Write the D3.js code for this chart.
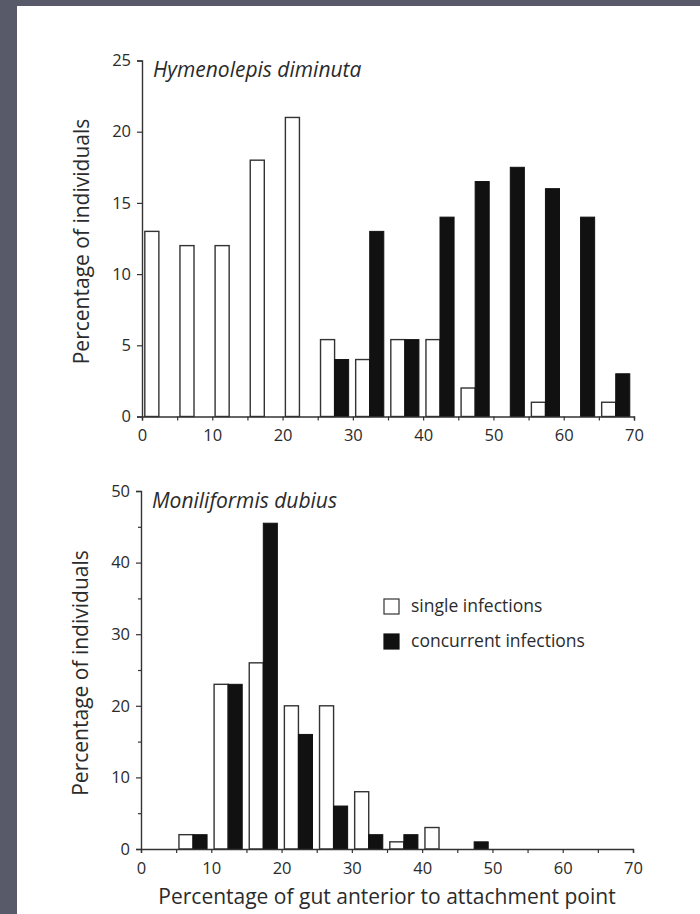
<!DOCTYPE html>
<html>
<head>
<meta charset="utf-8">
<script src="https://cdn.jsdelivr.net/npm/d3@7"></script>
<style>
  html, body { margin: 0; padding: 0; background: #585a6a; }
  #page { position: absolute; left: 17px; top: 6px; right: 0; bottom: 0; background: #fff; }
  svg { position: absolute; left: 0; top: 0; }
</style>
</head>
<body>
<div id="page"></div>
<svg id="chart" width="700" height="914"></svg>
<script>
// bin starts (percentage of gut anterior to attachment point)
const bins = [0, 5, 10, 15, 20, 25, 30, 35, 40, 45, 50, 55, 60, 65];

// Hymenolepis diminuta
const hdSingle = [13, 12, 12, 18, 21, 5.4, 4, 5.4, 5.4, 2, 0, 1, 0, 1];
const hdConcurrent = [0, 0, 0, 0, 0, 4, 13, 5.4, 14, 16.5, 17.5, 16, 14, 3];

// Moniliformis dubius
const mdSingle = [0, 2, 23, 26, 20, 20, 8, 1, 3, 0, 0, 0, 0, 0];
const mdConcurrent = [0, 2, 23, 45.5, 16, 6, 2, 2, 0, 1, 0, 0, 0, 0];

const xTicks = [0, 5, 10, 15, 20, 25, 30, 35, 40, 45, 50, 55, 60, 65, 70];
const hdYTicks = [0, 5, 10, 15, 20, 25];
const mdYTicks = [0, 10, 20, 30, 40, 50];
const mdYMinor = [5, 15, 25, 35, 45];

const seriesNames = ["single infections", "concurrent infections"];

const textColor = "#2b2b2b";
const axisColor = "#333";
const barBlack = "#111";
const font = "'Open Sans', 'Noto Sans', sans-serif";

const svg = d3.select("#chart");

function drawPanel(opts) {
  const x = d3.scaleLinear().domain([0, 70]).range([opts.left, opts.right]);
  const y = d3.scaleLinear().domain([0, opts.yMax]).range([opts.bottom, opts.top]);
  const g = svg.append("g");

  const barOffset = 0.4, barWidth = 2;

  // single infections (open bars)
  g.selectAll("rect.single")
    .data(bins.map((b, i) => ({ b, v: opts.single[i] })).filter(d => d.v > 0))
    .join("rect")
    .attr("class", "single")
    .attr("x", d => x(d.b + barOffset))
    .attr("width", d => x(d.b + barOffset + barWidth) - x(d.b + barOffset))
    .attr("y", d => y(d.v))
    .attr("height", d => y(0) - y(d.v))
    .attr("fill", "#fff")
    .attr("stroke", axisColor)
    .attr("stroke-width", 1.4);

  // concurrent infections (filled bars)
  g.selectAll("rect.conc")
    .data(bins.map((b, i) => ({ b, v: opts.concurrent[i] })).filter(d => d.v > 0))
    .join("rect")
    .attr("class", "conc")
    .attr("x", d => x(d.b + barOffset + barWidth))
    .attr("width", d => x(d.b + barOffset + 2 * barWidth) - x(d.b + barOffset + barWidth))
    .attr("y", d => y(d.v))
    .attr("height", d => y(0) - y(d.v))
    .attr("fill", barBlack)
    .attr("stroke", barBlack)
    .attr("stroke-width", 1);

  // x axis
  g.append("g")
    .attr("transform", `translate(0,${opts.bottom})`)
    .call(d3.axisBottom(x).tickValues(xTicks).tickSize(4).tickPadding(9)
      .tickFormat(d => d % 10 === 0 ? d : ""));

  // y axis
  g.append("g")
    .attr("transform", `translate(${opts.left},0)`)
    .call(d3.axisLeft(y).tickValues(opts.yTicks).tickSize(5).tickPadding(6));

  if (opts.yMinor) {
    g.append("g")
      .attr("transform", `translate(${opts.left},0)`)
      .call(d3.axisLeft(y).tickValues(opts.yMinor).tickSize(3).tickFormat(""))
      .select(".domain").remove();
  }

  g.selectAll(".domain").attr("stroke", axisColor).attr("stroke-width", 1.4);
  g.selectAll(".tick line").attr("stroke", axisColor).attr("stroke-width", 1.2);
  g.selectAll(".tick text")
    .attr("fill", textColor)
    .style("font-family", font)
    .style("font-size", "16.5px");

  // species name
  g.append("text")
    .attr("x", opts.left + 11)
    .attr("y", opts.top + 16.5)
    .attr("fill", textColor)
    .style("font-family", font)
    .style("font-style", "italic")
    .style("font-size", "21px")
    .text(opts.title);

  // y axis title
  g.append("text")
    .attr("transform", `translate(${opts.left - 53},${(opts.top + opts.bottom) / 2 + 3}) rotate(-90)`)
    .attr("text-anchor", "middle")
    .attr("fill", textColor)
    .style("font-family", font)
    .style("font-size", "21px")
    .text("Percentage of individuals");

  return { x, y };
}

drawPanel({
  left: 142, right: 634, top: 60.5, bottom: 416.5, yMax: 25,
  yTicks: hdYTicks, single: hdSingle, concurrent: hdConcurrent,
  title: "Hymenolepis diminuta"
});

drawPanel({
  left: 141, right: 633, top: 491, bottom: 849, yMax: 50,
  yTicks: mdYTicks, yMinor: mdYMinor, single: mdSingle, concurrent: mdConcurrent,
  title: "Moniliformis dubius"
});

// legend
const legend = svg.append("g").attr("transform", "translate(384,599)");
seriesNames.forEach((name, i) => {
  legend.append("rect")
    .attr("x", 0)
    .attr("y", i * 35)
    .attr("width", 15)
    .attr("height", 15)
    .attr("fill", i === 0 ? "#fff" : barBlack)
    .attr("stroke", i === 0 ? axisColor : barBlack)
    .attr("stroke-width", 1.2);
  legend.append("text")
    .attr("x", 27)
    .attr("y", i * 35 + 13)
    .attr("fill", textColor)
    .style("font-family", font)
    .style("font-size", "17.5px")
    .text(name);
});

// x axis title
svg.append("text")
  .attr("x", 387)
  .attr("y", 904)
  .attr("text-anchor", "middle")
  .attr("fill", textColor)
  .style("font-family", font)
  .style("font-size", "21px")
  .text("Percentage of gut anterior to attachment point");
</script>
</body>
</html>
